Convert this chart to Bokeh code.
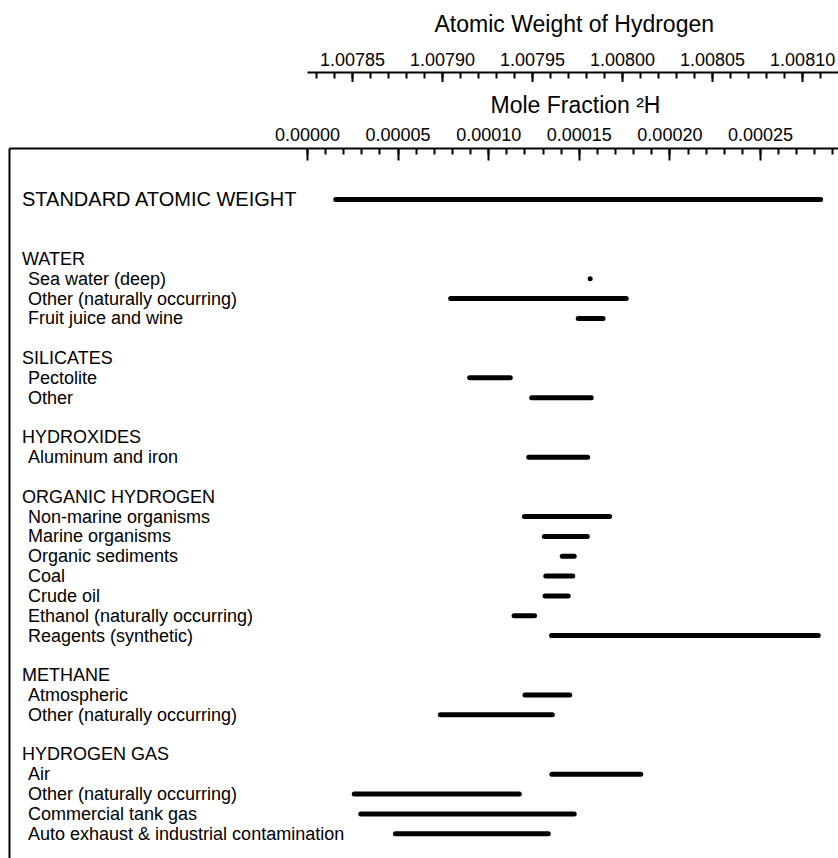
from bokeh.plotting import figure
from bokeh.layouts import column
from bokeh.models import ColumnDataSource, Range1d, FixedTicker, NumeralTickFormatter, Title
from bokeh.core.properties import value
from bokeh.embed import file_html
from bokeh.resources import INLINE

# ---------------- data (top to bottom rows) ----------------
row_labels = [
    "STANDARD ATOMIC WEIGHT", "", "",
    "WATER", "Sea water (deep)", "Other (naturally occurring)", "Fruit juice and wine", "",
    "SILICATES", "Pectolite", "Other", "",
    "HYDROXIDES", "Aluminum and iron", "",
    "ORGANIC HYDROGEN", "Non-marine organisms", "Marine organisms", "Organic sediments",
    "Coal", "Crude oil", "Ethanol (naturally occurring)", "Reagents (synthetic)", "",
    "METHANE", "Atmospheric", "Other (naturally occurring)", "",
    "HYDROGEN GAS", "Air", "Other (naturally occurring)", "Commercial tank gas",
    "Auto exhaust & industrial contamination",
]
row_kind = [
    "standard", "", "",
    "group", "item", "item", "item", "",
    "group", "item", "item", "",
    "group", "item", "",
    "group", "item", "item", "item", "item", "item", "item", "item", "",
    "group", "item", "item", "",
    "group", "item", "item", "item", "item",
]
# mole fraction of 2H, lower / upper limits (None = no range)
low_x = [
    1.56e-5, None, None,
    None, 1.560e-4, 7.90e-5, 1.494e-4, None,
    None, 8.95e-5, 1.237e-4, None,
    None, 1.221e-4, None,
    None, 1.197e-4, 1.307e-4, 1.406e-4, 1.315e-4, 1.311e-4, 1.140e-4, 1.347e-4, None,
    None, 1.200e-4, 7.33e-5, None,
    None, 1.349e-4, 2.58e-5, 2.94e-5, 4.85e-5,
]
high_x = [
    2.832e-4, None, None,
    None, 1.560e-4, 1.759e-4, 1.631e-4, None,
    None, 1.119e-4, 1.566e-4, None,
    None, 1.546e-4, None,
    None, 1.667e-4, 1.544e-4, 1.472e-4, 1.464e-4, 1.439e-4, 1.253e-4, 2.819e-4, None,
    None, 1.447e-4, 1.351e-4, None,
    None, 1.839e-4, 1.169e-4, 1.472e-4, 1.329e-4,
]

mf_major = [0.0, 0.00005, 0.00010, 0.00015, 0.00020, 0.00025]
mf_minor = [i * 0.00001 for i in range(0, 30)]
aw_major = [1.00785, 1.00790, 1.00795, 1.00800, 1.00805, 1.00810]
aw_minor = [1.00783 + i * 0.00001 for i in range(0, 29)]

m_1H = 1.00782503   # atomic mass of 1H
m_2H = 2.01410178   # atomic mass of 2H

# ---------------- layout ----------------
x_start, x_end = -1.6446e-4, 2.9305e-4
y_bottom, y_top = 33.25, -2.573
W = 838
TOP_H = 82
MAIN_H = 858 - TOP_H

def aw(x):
    return m_1H + (m_2H - m_1H) * x

FONT = "Liberation Sans"


def style_tick_axis(ax, standoff):
    ax.axis_line_width = 2
    ax.axis_line_color = "black"
    ax.major_tick_in = 12
    ax.major_tick_out = 0
    ax.minor_tick_in = 6
    ax.minor_tick_out = 0
    ax.major_tick_line_width = 2
    ax.minor_tick_line_width = 2
    ax.major_tick_line_color = "black"
    ax.minor_tick_line_color = "black"
    ax.major_label_text_font = FONT
    ax.major_label_text_font_size = "18px"
    ax.major_label_text_color = "black"
    ax.major_label_standoff = standoff
    ax.formatter = NumeralTickFormatter(format="0.00000")


def clean(fig):
    fig.outline_line_color = None
    fig.xgrid.visible = False
    fig.ygrid.visible = False
    fig.background_fill_color = "white"
    fig.border_fill_color = "white"


# ---- top figure: atomic weight axis ----
top = figure(width=W, height=TOP_H, output_backend="svg", toolbar_location=None,
             x_range=Range1d(aw(x_start), aw(x_end)), y_range=Range1d(0, 1),
             x_axis_location="above", y_axis_location=None,
             min_border_left=9, min_border_right=0, min_border_bottom=0, min_border_top=70)
clean(top)
awx = top.xaxis[0]
awx.ticker = FixedTicker(ticks=aw_major, minor_ticks=aw_minor)
awx.bounds = (m_1H, aw(x_end))
style_tick_axis(awx, 7)
top.add_layout(Title(text="Atomic Weight of Hydrogen", align="left", offset=425, standoff=21,
                     vertical_align="top",
                     text_font=FONT, text_font_size="23px", text_font_style="normal",
                     text_color="black"), "above")

# ---- main figure ----
p = figure(width=W, height=MAIN_H, output_backend="svg", toolbar_location=None,
           x_range=Range1d(x_start, x_end), y_range=Range1d(y_bottom, y_top),
           x_axis_location="above", y_axis_location="left",
           min_border_left=9, min_border_right=0, min_border_bottom=0,
           min_border_top=148 - TOP_H)
clean(p)

# left border via y axis line
ya = p.yaxis[0]
ya.ticker = FixedTicker(ticks=[])
ya.axis_line_width = 2
ya.axis_line_color = "black"
ya.major_tick_out = 0
ya.major_tick_in = 0
ya.minor_tick_out = 0
ya.minor_tick_in = 0

mf = p.xaxis[0]
mf.ticker = FixedTicker(ticks=mf_major, minor_ticks=mf_minor)
style_tick_axis(mf, 8)
p.add_layout(Title(text="Mole Fraction \u00b2H", align="left", offset=481, standoff=14,
                   text_font=FONT, text_font_size="23px", text_font_style="normal",
                   text_color="black"), "above")

# ---------------- bars ----------------
bar_rows = [i for i in range(len(row_labels)) if low_x[i] is not None]
bars = ColumnDataSource(dict(
    y=bar_rows,
    x0=[low_x[i] for i in bar_rows],
    x1=[high_x[i] for i in bar_rows],
))
p.segment(x0="x0", y0="y", x1="x1", y1="y", source=bars,
          line_width=5, line_color="black", line_cap="round")

# ---------------- labels ----------------
def label_source(kind):
    idx = [i for i, k in enumerate(row_kind) if k == kind]
    return ColumnDataSource(dict(x=[x_start] * len(idx), y=idx, t=[row_labels[i] for i in idx]))

for kind, off, size in [("standard", 12.5, "20px"), ("group", 12.5, "18px"), ("item", 18.5, "18px")]:
    p.text(x="x", y="y", text="t", source=label_source(kind), x_offset=off,
           text_font=value(FONT), text_font_size=size, text_color="black",
           text_baseline="middle", text_align="left")

layout = column(top, p, spacing=0)
open("out.html", "w").write(file_html(layout, INLINE))
